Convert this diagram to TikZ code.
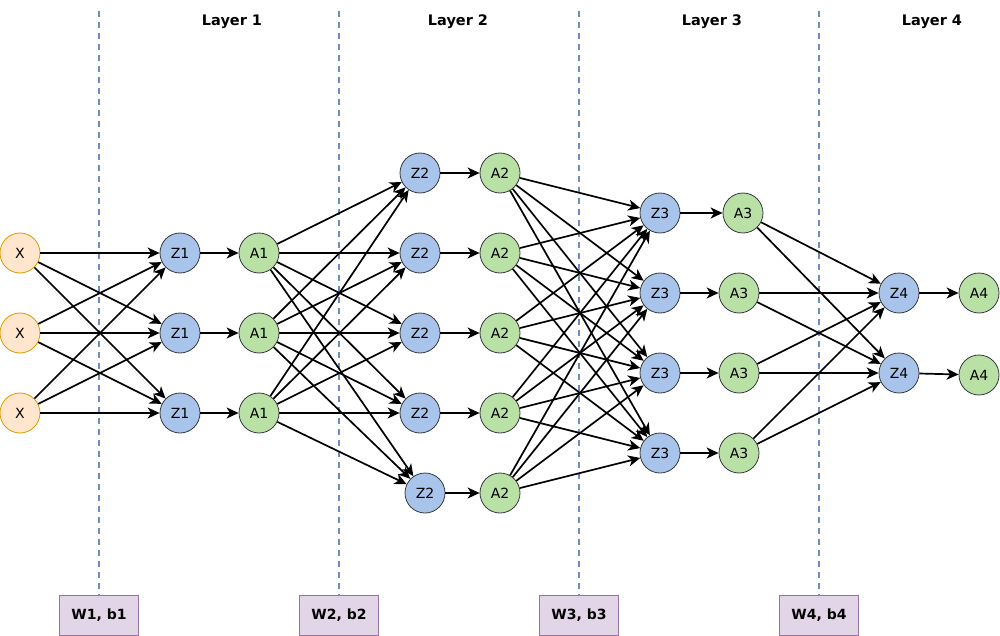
\documentclass[tikz,border=0pt]{standalone}
\usepackage{fontspec}
\setmainfont{DejaVu Sans}
\usetikzlibrary{arrows.meta}
\definecolor{xfill}{HTML}{FFE6CC}
\definecolor{xdraw}{HTML}{D79B00}
\definecolor{zfill}{HTML}{A9C4EB}
\definecolor{afill}{HTML}{B9E0A5}
\definecolor{ndraw}{HTML}{36393D}
\definecolor{wfill}{HTML}{E1D5E7}
\definecolor{wdraw}{HTML}{9673A6}
\definecolor{dline}{HTML}{6C8EBF}
\begin{document}
\begin{tikzpicture}[x=1pt,y=-1pt,
  neuron/.style={circle, minimum size=40pt, inner sep=0pt, line width=0.8pt, font=\fontsize{14}{16}\selectfont},
  xin/.style={neuron, fill=xfill, draw=xdraw},
  zn/.style={neuron, fill=zfill, draw=ndraw},
  an/.style={neuron, fill=afill, draw=ndraw},
  conn/.style={line width=1.7pt, -{Stealth[length=12pt,width=11pt,inset=3.5pt]}},
  wbox/.style={draw=wdraw, fill=wfill, line width=0.8pt, minimum width=79pt, minimum height=40pt, inner sep=0pt, font=\bfseries\fontsize{14}{16}\selectfont},
  layerlab/.style={font=\bfseries\fontsize{14.5}{16}\selectfont},
  sep/.style={draw=dline, line width=1.3pt, dash pattern=on 6pt off 5pt}
]
\useasboundingbox (0,0) rectangle (1000,636);

% inputs and layer 1
\foreach \i/\y in {1/253,2/333,3/413}{
  \node[xin] (x\i) at (20,\y) {X};
  \node[zn] (za\i) at (180,\y) {Z1};
  \node[an] (aa\i) at (259,\y) {A1};
}
% layer 2
\foreach \i/\y/\xx in {1/173/420,2/253/420,3/333/420,4/413/420,5/493/425}{
  \node[zn] (zb\i) at (\xx,\y) {Z2};
  \node[an] (ab\i) at (500,\y) {A2};
}
% layer 3
\foreach \i/\y/\xx in {1/213/743,2/293/739,3/373/739,4/453/739}{
  \node[zn] (zc\i) at (660,\y) {Z3};
  \node[an] (ac\i) at (\xx,\y) {A3};
}
% layer 4
\node[zn] (zd1) at (899,293) {Z4};
\node[zn] (zd2) at (899,373) {Z4};
\node[an] (ad1) at (979,293) {A4};
\node[an] (ad2) at (979,375) {A4};

% weight boxes and separators
\foreach \i/\xx in {1/99,2/339,3/579,4/819}{
  \node[wbox] (w\i) at (\xx,615) {W\i, b\i};
  \coordinate (t\i) at (\xx,11);
  \draw[sep] (t\i) -- (w\i.north);
}

% layer labels
\node[layerlab] (l1) at (232,22) {Layer 1};
\node[layerlab] (l2) at (458,22) {Layer 2};
\node[layerlab] (l3) at (712,22) {Layer 3};
\node[layerlab] (l4) at (932,22) {Layer 4};

% connections
\foreach \i in {1,2,3}{
  \foreach \j in {1,2,3}{ \draw[conn] (x\i) -- (za\j); }
  \draw[conn] (za\i) -- (aa\i);
  \foreach \j in {1,...,5}{ \draw[conn] (aa\i) -- (zb\j); }
}
\foreach \i in {1,...,5}{
  \draw[conn] (zb\i) -- (ab\i);
  \foreach \j in {1,...,4}{ \draw[conn] (ab\i) -- (zc\j); }
}
\foreach \i in {1,...,4}{
  \draw[conn] (zc\i) -- (ac\i);
  \foreach \j in {1,2}{ \draw[conn] (ac\i) -- (zd\j); }
}
\draw[conn] (zd1) -- (ad1);
\draw[conn] (zd2) -- (ad2);
\end{tikzpicture}
\end{document}
